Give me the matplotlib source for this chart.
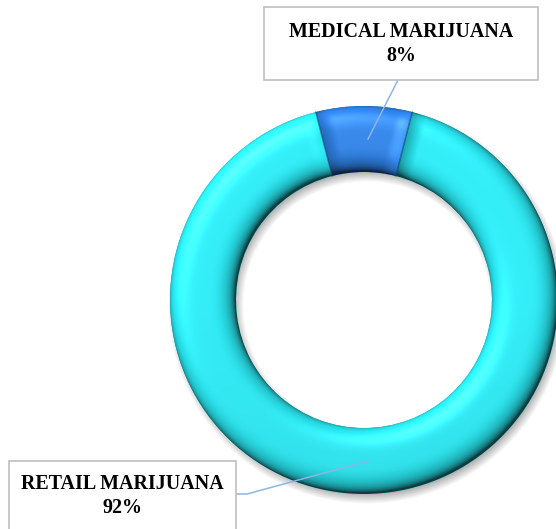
import numpy as np
import matplotlib
matplotlib.use('Agg')
from matplotlib import pyplot as plt
from matplotlib.patches import Rectangle

labels = ['MEDICAL MARIJUANA', 'RETAIL MARIJUANA']
shares = [8, 92]
colors = ['#2f80e2', '#2ae6f0']

W, H = 556, 529
cx, cy = 364, 229
r_out, r_in = 194, 128

plt.rcParams['font.family'] = ['Liberation Serif', 'DejaVu Serif']

fig = plt.figure(figsize=(W / 100, H / 100), dpi=100)
ax = fig.add_axes([0, 0, 1, 1])

xs = np.arange(W) + 0.5
ys = np.arange(H) + 0.5
X, Y = np.meshgrid(xs, ys)
dx, dy = X - cx, Y - cy
R = np.hypot(dx, dy)
PHI = np.degrees(np.arctan2(dy, dx)) % 360

# soft drop shadow under the ring
sx, sy = 3, -5
Rs = np.hypot(X - cx - sx, Y - cy - sy)
dist = np.maximum(r_in - Rs, Rs - r_out)
sh_alpha = 0.3 * np.clip(0.5 - dist / 10.0, 0, 1)
shadow = np.zeros((H, W, 4))
shadow[..., 3] = sh_alpha
ax.imshow(shadow, extent=(0, W, 0, H), origin='lower', zorder=0, interpolation='bilinear')

start = 90 - shares[0] / sum(shares) * 360 / 2
wedges, _ = ax.pie(shares, colors=colors, startangle=start, counterclock=True,
                   center=(cx, cy), radius=r_out, frame=True,
                   wedgeprops=dict(width=r_out - r_in, linewidth=0))

# rounded-tube shading, clipped to each wedge
L = np.array([-0.35, 0.45, 0.82])
L = L / np.linalg.norm(L)
Hv = L + np.array([0, 0, 1.0])
Hv = Hv / np.linalg.norm(Hv)
t = np.clip((R - r_in) / (r_out - r_in), 0, 1)
u = np.clip(2 * t - 1, -0.999, 0.999)
u = u * np.abs(u) ** 2
ph = np.radians(PHI)
cphi, sphi = np.cos(ph), np.sin(ph)
bevel = 16.0
for w, c in zip(wedges, colors):
    base = np.array(matplotlib.colors.to_rgb(c))
    d1 = np.radians((PHI - w.theta1) % 360) * R
    d2 = np.radians((w.theta2 - PHI) % 360) * R
    k1 = np.clip(1 - d1 / bevel, 0, 1) ** 1.3
    k2 = np.clip(1 - d2 / bevel, 0, 1) ** 1.3
    nz = np.sqrt(1 - u ** 2)
    nx = u * cphi + 0.55 * (k1 * -sphi + k2 * sphi)
    ny = u * sphi + 0.55 * (k1 * cphi - k2 * cphi)
    nn = np.sqrt(nx ** 2 + ny ** 2 + nz ** 2)
    nx, ny, nzz = nx / nn, ny / nn, nz / nn
    lam = np.clip(nx * L[0] + ny * L[1] + nzz * L[2], 0, 1)
    spec = np.clip(nx * Hv[0] + ny * Hv[1] + nzz * Hv[2], 0, 1) ** 30 * 0.18
    # slightly dimmer toward the bottom of the ring
    dim = 1 - 0.06 * np.clip(-dy / r_out, 0, 1)
    rgb = base[None, None, :] * ((0.28 + 0.86 * lam) * dim)[..., None] + spec[..., None]
    img = np.clip(rgb, 0, 1)
    im = ax.imshow(img, extent=(0, W, 0, H), origin='lower', zorder=2, interpolation='bilinear')
    im.set_clip_path(w)
    w.set_zorder(1)

# thin dark seams between the slices
for w in wedges:
    a = np.radians(w.theta1)
    ax.plot([cx + r_in * np.cos(a), cx + r_out * np.cos(a)],
            [cy + r_in * np.sin(a), cy + r_out * np.sin(a)],
            color='#0b3a6a', lw=1.0, alpha=0.6, zorder=3)

# label boxes and leader lines
boxes = [(264, 449, 274, 73), (9, -20, 227, 88)]
text_pos = [(401, 485), (122.5, 33)]
elbows = [[(398, 449)], [(236, 35), (247, 35)]]
lead_r = 161
for w, lab, s, box, tp, el in zip(wedges, labels, shares, boxes, text_pos, elbows):
    mid = np.radians((w.theta1 + w.theta2) / 2)
    end = (cx + lead_r * np.cos(mid) + 4, cy + lead_r * np.sin(mid))
    pts = el + [end]
    ax.plot([p[0] for p in pts], [p[1] for p in pts], color='#8fb4e6', lw=1.1, zorder=4)
    ax.add_patch(Rectangle(box[:2], box[2], box[3], facecolor='white',
                           edgecolor='#bfbfbf', lw=1.2, zorder=5))
    ax.text(tp[0], tp[1], f'{lab}\n{s}%', ha='center', va='center', fontsize=14.4,
            fontweight='bold', linespacing=1.25, zorder=6)

ax.set_xlim(0, W)
ax.set_ylim(0, H)
ax.set_aspect('equal')
ax.axis('off')

fig.savefig('out.png', dpi=100)
